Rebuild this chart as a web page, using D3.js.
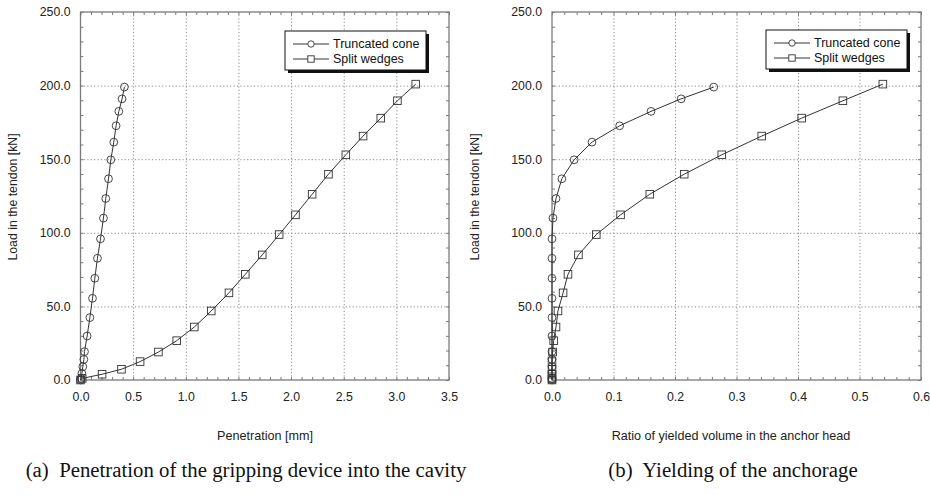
<!DOCTYPE html>
<html><head><meta charset="utf-8">
<script src="https://cdn.jsdelivr.net/npm/d3@7"></script>
<style>
html,body{margin:0;padding:0;background:#fff;}
svg{display:block;}
</style></head>
<body>
<svg id="c" width="930" height="495"></svg>
<script>
// ---- data ----
const seriesNames = ["Truncated cone", "Split wedges"];
const loadCone = [0, 1, 4.5, 9, 14, 19.3, 29.9, 42.4, 55.5, 69.1, 82.7, 95.9, 110, 123.3, 136.7, 149.6, 161.6, 172.7, 182.5, 191, 199];
const penCone = [0, 0.006, 0.013, 0.022, 0.032, 0.038, 0.063, 0.089, 0.114, 0.136, 0.161, 0.19, 0.218, 0.240, 0.266, 0.288, 0.316, 0.338, 0.364, 0.395, 0.417];
const yieldCone = [0, 0, 0, 0, 0, 0, 0, 0, 0, 0, 0, 0, 0.0016, 0.0065, 0.016, 0.036, 0.065, 0.110, 0.161, 0.210, 0.263];
const loadWedge = [0, 1.1, 3.9, 7.3, 12.5, 19, 26.7, 36, 46.9, 59.2, 71.8, 85, 98.8, 112.2, 126.2, 139.8, 153, 165.7, 177.9, 189.7, 201];
const penWedge = [0, 0.016, 0.205, 0.389, 0.566, 0.74, 0.914, 1.081, 1.242, 1.41, 1.565, 1.726, 1.887, 2.042, 2.2, 2.355, 2.52, 2.684, 2.852, 3.01, 3.184];
const yieldWedge = [0, 0, 0, 0, 0, 0.001, 0.0027, 0.0065, 0.0097, 0.018, 0.026, 0.043, 0.072, 0.1115, 0.159, 0.215, 0.276, 0.341, 0.406, 0.473, 0.538];
const yTicks = [0, 50, 100, 150, 200, 250];
const xTicksA = [0, 0.5, 1.0, 1.5, 2.0, 2.5, 3.0, 3.5];
const xTicksB = [0, 0.1, 0.2, 0.3, 0.4, 0.5, 0.6];
const yTitle = "Load in the tendon [kN]";
const xTitleA = "Penetration [mm]";
const xTitleB = "Ratio of yielded volume in the anchor head";
const captionA = "(a)\u00a0 Penetration of the gripping device into the cavity";
const captionB = "(b)\u00a0 Yielding of the anchorage";

const svg = d3.select("#c");
const FONT = "'Liberation Sans', Arial, sans-serif";
const FRAME = "#7a7a7a";
const LINE = "#333";

function panel(o) {
  const g = svg.append("g");
  const x = d3.scaleLinear().domain([0, o.xMax]).range([o.left, o.right]);
  const y = d3.scaleLinear().domain([0, 250]).range([o.bottom, o.top]);
  const W = o.right - o.left, H = o.bottom - o.top;
  const minorX = d3.range(0, o.xMax + 1e-9, o.xMinor);
  const minorY = d3.range(0, 250 + 1e-9, 10);

  // grid (dotted)
  g.append("g").attr("transform", `translate(0,${o.bottom})`)
    .call(d3.axisBottom(x).tickValues(o.xTicks.slice(1, -1)).tickSize(-H).tickFormat(""))
    .call(s => s.select(".domain").remove())
    .call(s => s.selectAll("line").attr("stroke", "#8a8a8a").attr("stroke-dasharray", "1.2,2.2"));
  g.append("g").attr("transform", `translate(${o.left},0)`)
    .call(d3.axisLeft(y).tickValues(yTicks.slice(1, -1)).tickSize(-W).tickFormat(""))
    .call(s => s.select(".domain").remove())
    .call(s => s.selectAll("line").attr("stroke", "#8a8a8a").attr("stroke-dasharray", "1.2,2.2"));

  // minor inward ticks on all four sides
  const tk = 3;
  const mk = (axis, tr) => g.append("g").attr("transform", tr).call(axis)
    .call(s => s.select(".domain").remove())
    .call(s => s.selectAll("line").attr("stroke", FRAME).attr("stroke-width", 1));
  mk(d3.axisBottom(x).tickValues(minorX).tickSize(-tk).tickFormat(""), `translate(0,${o.bottom})`);
  mk(d3.axisTop(x).tickValues(minorX).tickSize(-tk).tickFormat(""), `translate(0,${o.top})`);
  mk(d3.axisLeft(y).tickValues(minorY).tickSize(-tk).tickFormat(""), `translate(${o.left},0)`);
  mk(d3.axisRight(y).tickValues(minorY).tickSize(-tk).tickFormat(""), `translate(${o.right},0)`);

  // frame
  g.append("rect").attr("x", o.left).attr("y", o.top).attr("width", W).attr("height", H)
    .attr("fill", "none").attr("stroke", FRAME).attr("stroke-width", 1.3);

  // tick labels
  g.append("g").attr("transform", `translate(0,${o.bottom})`)
    .call(d3.axisBottom(x).tickValues(o.xTicks).tickSize(0).tickPadding(12).tickFormat(d3.format(".1f")))
    .call(s => s.select(".domain").remove())
    .call(s => s.selectAll("text").attr("font-family", FONT).attr("font-size", 12.3).attr("fill", "#222"));
  g.append("g").attr("transform", `translate(${o.left},0)`)
    .call(d3.axisLeft(y).tickValues(yTicks).tickSize(0).tickPadding(10).tickFormat(d3.format(".1f")))
    .call(s => s.select(".domain").remove())
    .call(s => s.selectAll("text").attr("font-family", FONT).attr("font-size", 12.3).attr("fill", "#222"));

  // titles
  g.append("text").attr("x", o.xTitleX).attr("y", 440)
    .attr("text-anchor", "middle").attr("font-family", FONT).attr("font-size", 12.6).attr("fill", "#222")
    .text(o.xTitle);
  g.append("text").attr("transform", `translate(${o.yTitleX},197) rotate(-90)`)
    .attr("text-anchor", "middle").attr("font-family", FONT).attr("font-size", 12.3).attr("fill", "#222")
    .text(yTitle);
  g.append("text").attr("x", o.capX).attr("y", 477)
    .attr("text-anchor", "middle").attr("font-family", "'Liberation Serif', 'Times New Roman', serif")
    .attr("font-size", 20.8).attr("fill", "#111").text(o.caption);

  // data
  const line = d3.line().x(d => x(d[0])).y(d => y(d[1]));
  const cone = o.xCone.map((v, i) => [v, loadCone[i]]);
  const wedge = o.xWedge.map((v, i) => [v, loadWedge[i]]);
  const clip = "clip" + o.id;
  g.append("clipPath").attr("id", clip).append("rect")
    .attr("x", o.left - 6).attr("y", o.top).attr("width", W + 6).attr("height", H + 6);
  const dg = g.append("g").attr("clip-path", `url(#${clip})`);
  [cone, wedge].forEach(d => dg.append("path").datum(d).attr("d", line)
    .attr("fill", "none").attr("stroke", LINE).attr("stroke-width", 1));
  dg.selectAll(".c").data(cone).join("circle")
    .attr("cx", d => x(d[0])).attr("cy", d => y(d[1])).attr("r", 3.9)
    .attr("fill", "none").attr("stroke", LINE).attr("stroke-width", 0.9);
  dg.selectAll(".s").data(wedge).join("rect")
    .attr("x", d => x(d[0]) - 3.8).attr("y", d => y(d[1]) - 3.8).attr("width", 7.6).attr("height", 7.6)
    .attr("fill", "none").attr("stroke", LINE).attr("stroke-width", 0.9);

  // legend
  const L = o.legend;
  const lg = g.append("g");
  lg.append("rect").attr("x", L.x + 3).attr("y", L.y + 3).attr("width", L.w).attr("height", L.h).attr("fill", "#111");
  lg.append("rect").attr("x", L.x).attr("y", L.y).attr("width", L.w).attr("height", L.h)
    .attr("fill", "#fff").attr("stroke", "#111").attr("stroke-width", 1);
  seriesNames.forEach((name, i) => {
    const yy = L.y + 13 + i * 15;
    lg.append("line").attr("x1", L.x + 8).attr("x2", L.x + 44).attr("y1", yy).attr("y2", yy)
      .attr("stroke", LINE).attr("stroke-width", 1);
    if (i === 0) lg.append("circle").attr("cx", L.x + 26).attr("cy", yy).attr("r", 3.2)
      .attr("fill", "#fff").attr("stroke", LINE).attr("stroke-width", 0.9);
    else lg.append("rect").attr("x", L.x + 22.8).attr("y", yy - 3.2).attr("width", 6.4).attr("height", 6.4)
      .attr("fill", "#fff").attr("stroke", LINE).attr("stroke-width", 0.9);
    lg.append("text").attr("x", L.x + 48).attr("y", yy + 4.3)
      .attr("font-family", FONT).attr("font-size", 12.5).attr("fill", "#111").text(name);
  });
}

panel({id: "a", left: 80.5, right: 449, top: 12, bottom: 380, xMax: 3.5, xMinor: 0.1, xTicks: xTicksA,
  xCone: penCone, xWedge: penWedge, xTitle: xTitleA, xTitleX: 265, yTitleX: 17, capX: 246, caption: captionA,
  legend: {x: 285, y: 31, w: 141, h: 39}});
panel({id: "b", left: 552, right: 921, top: 12, bottom: 380, xMax: 0.6, xMinor: 0.02, xTicks: xTicksB,
  xCone: yieldCone, xWedge: yieldWedge, xTitle: xTitleB, xTitleX: 731, yTitleX: 479, capX: 733, caption: captionB,
  legend: {x: 766, y: 30, w: 141, h: 39}});
</script>
</body></html>
